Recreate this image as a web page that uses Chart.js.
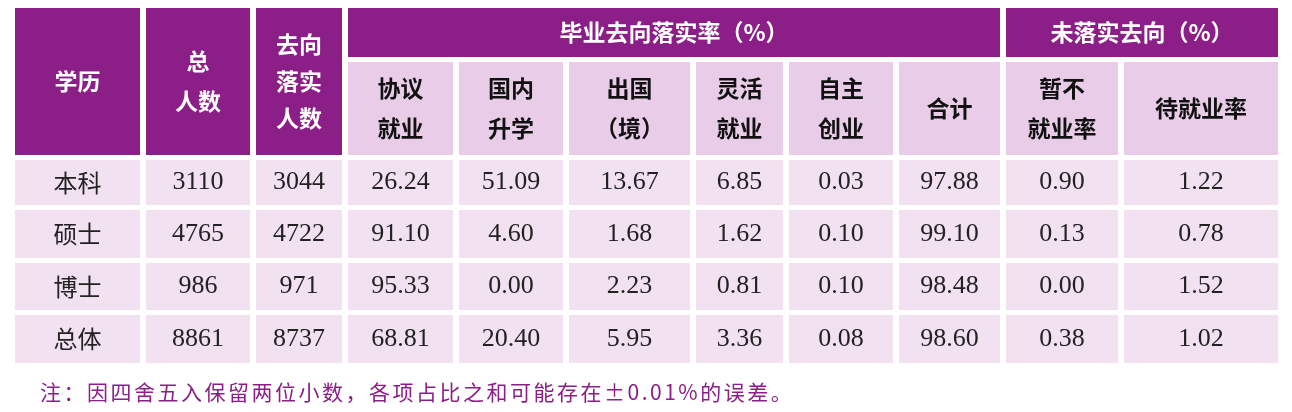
<!DOCTYPE html>
<html><head><meta charset="utf-8">
<script src="https://cdn.jsdelivr.net/npm/chart.js@4"></script>
<style>html,body{margin:0;padding:0;background:#fff}#w{width:1292px;height:412px}</style>
</head><body><div id="w"><canvas id="c" width="1292" height="412"></canvas></div>
<script>
const degrees = ['本科','硕士','博士','总体'];
const totalCount = ['3110','4765','986','8861'];
const placedCount = ['3044','4722','971','8737'];
const agreement = ['26.24','91.10','95.33','68.81'];
const domestic = ['51.09','4.60','0.00','20.40'];
const abroad = ['13.67','1.68','2.23','5.95'];
const flexible = ['6.85','1.62','0.81','3.36'];
const selfEmployed = ['0.03','0.10','0.10','0.08'];
const totalRate = ['97.88','99.10','98.48','98.60'];
const notEmployed = ['0.90','0.13','0.00','0.38'];
const waiting = ['1.22','0.78','1.52','1.02'];
const leftHeaders = [['学历'],['总','人数'],['去向','落实','人数']];
const groupHeaders = ['毕业去向落实率（%）','未落实去向（%）'];
const subHeaders = [['协议','就业'],['国内','升学'],['出国','（境）'],['灵活','就业'],['自主','创业'],['合计'],['暂不','就业率'],['待就业率']];
const note = '注：因四舍五入保留两位小数，各项占比之和可能存在±0.01%的误差。';

const colL = [15,146,256,348,459,569,696,789,899,1006,1124];
const colR = [140,250,342,453,563,690,783,893,1000,1118,1278];
const rowT = [160,210,263,315], rowB = [205,258,310,363];
const PURPLE = '#8B1E87', SUB = '#E8CCE8', ROW = '#F2E2F1';

const tablePlugin = {
  id:'table',
  afterDraw(chart){
    const ctx = chart.ctx, X = v=>chart.scales.x.getPixelForValue(v), Y = v=>chart.scales.y.getPixelForValue(v);
    const rect=(l,t,r,b,c)=>{ctx.fillStyle=c;ctx.fillRect(X(l),Y(t),X(r)-X(l),Y(b)-Y(t));};
    const text=(lines,l,t,r,b,color,font,lh)=>{
      ctx.fillStyle=color;ctx.font=font;ctx.textAlign='center';ctx.textBaseline='middle';
      const cx=(X(l)+X(r))/2, cy=(Y(t)+Y(b))/2, n=lines.length;
      lines.forEach((s,i)=>ctx.fillText(s,cx,cy+(i-(n-1)/2)*lh));
    };
    const HF='bold 23px "Noto Sans CJK SC"';
    for(let i=0;i<3;i++){rect(colL[i],8,colR[i],155,PURPLE);text(leftHeaders[i],colL[i],8,colR[i],155,'#fff',HF,leftHeaders[i].length===3?37:40);}
    rect(348,8,1000,57,PURPLE);text([groupHeaders[0]],348,8,1000,57,'#fff',HF,0);
    rect(1006,8,1278,57,PURPLE);text([groupHeaders[1]],1006,8,1278,57,'#fff',HF,0);
    for(let j=0;j<8;j++){rect(colL[j+3],62,colR[j+3],155,SUB);text(subHeaders[j],colL[j+3],62,colR[j+3],155,'#111',HF,40);}
    const cols=[degrees,totalCount,placedCount,agreement,domestic,abroad,flexible,selfEmployed,totalRate,notEmployed,waiting];
    for(let r=0;r<4;r++)for(let c=0;c<11;c++){
      rect(colL[c],rowT[r],colR[c],rowB[r],ROW);
      text([cols[c][r]],colL[c],rowT[r],colR[c],rowB[r],'#222',c===0?'24px "Noto Sans CJK SC"':'26px "Liberation Serif"',0);
    }
    ctx.fillStyle=PURPLE;ctx.font='21px "Noto Sans CJK SC"';ctx.textAlign='left';ctx.textBaseline='middle';
    ctx.letterSpacing='2.5px';
    ctx.fillText(note,X(40),Y(392));
    ctx.letterSpacing='0px';
  }
};
new Chart(document.getElementById('c'),{
  type:'scatter',
  data:{datasets:[{data:[]}]},
  options:{responsive:false,animation:false,devicePixelRatio:1,layout:{padding:0},
    plugins:{legend:{display:false},tooltip:{enabled:false}},
    scales:{x:{type:'linear',min:0,max:1292,display:false},y:{type:'linear',min:0,max:412,reverse:true,display:false}}},
  plugins:[tablePlugin]
});
</script></body></html>
